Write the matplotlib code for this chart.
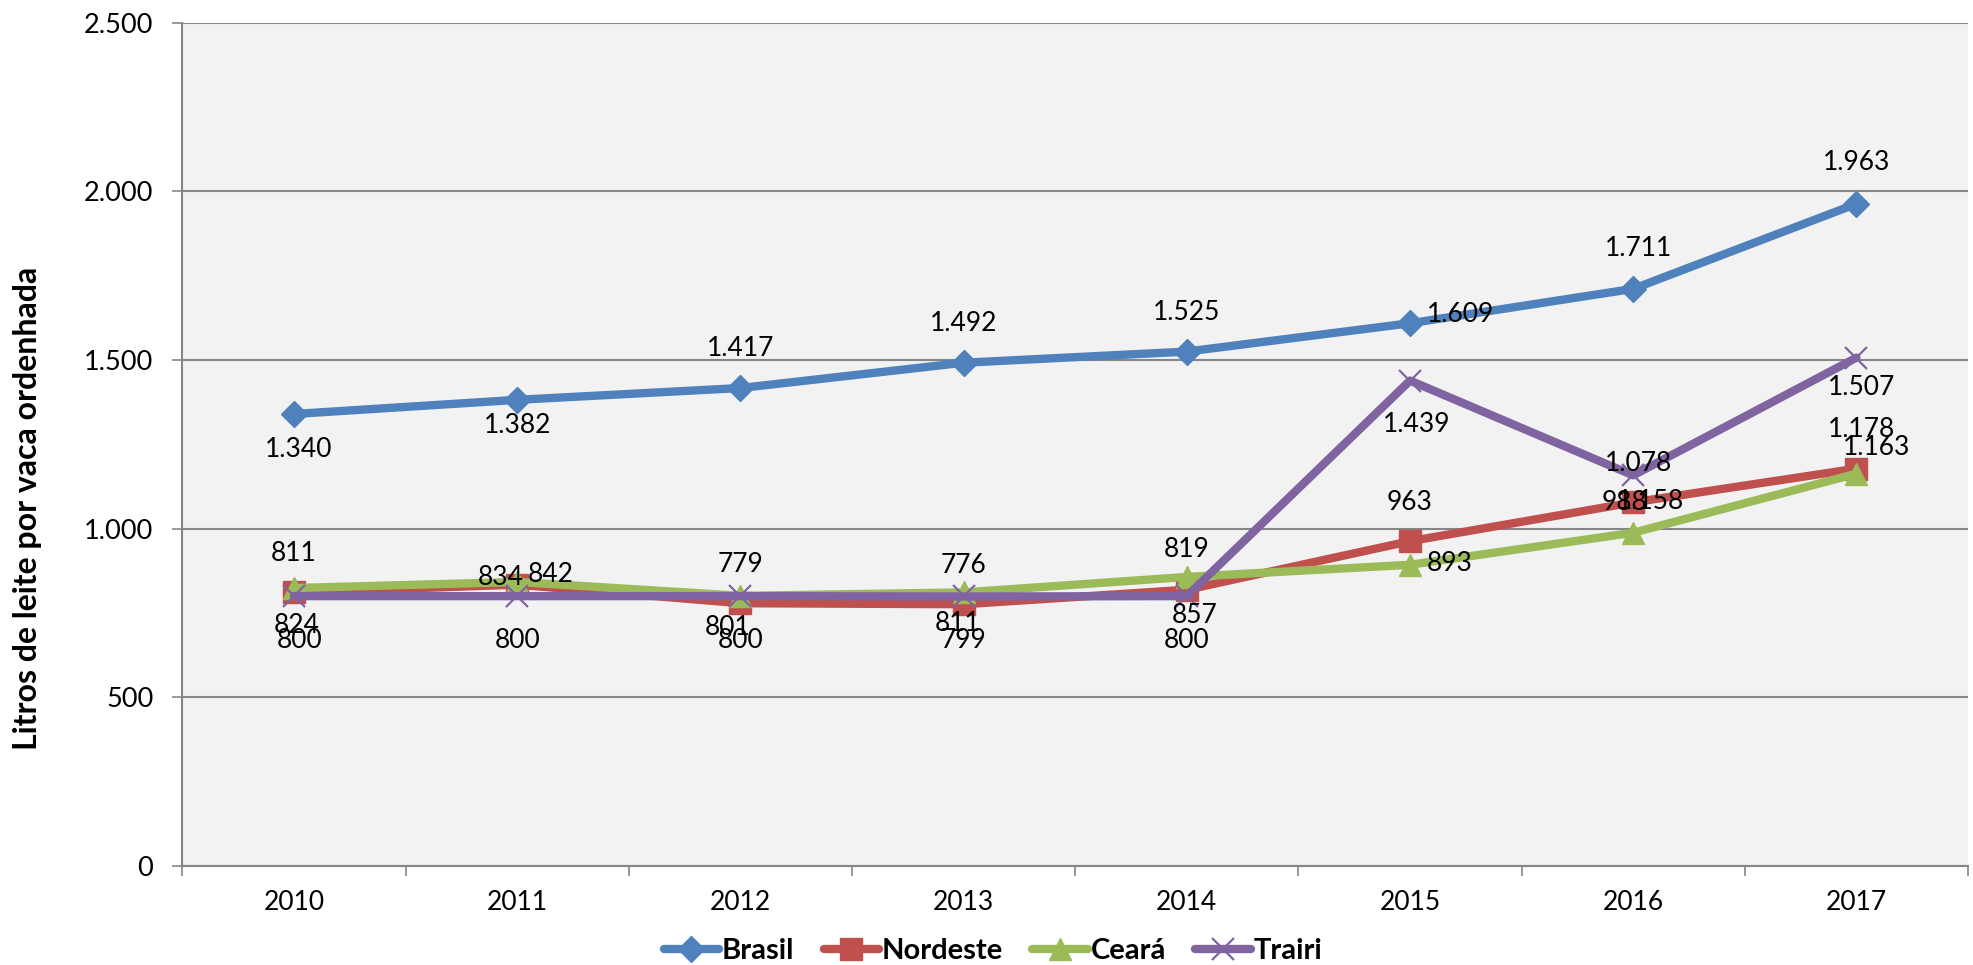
import matplotlib
matplotlib.use("Agg")
import matplotlib.pyplot as plt
from matplotlib.ticker import FixedLocator, FuncFormatter

years = ["2010", "2011", "2012", "2013", "2014", "2015", "2016", "2017"]
brasil = [1340, 1382, 1417, 1492, 1525, 1609, 1711, 1963]
nordeste = [811, 834, 779, 776, 819, 963, 1078, 1178]
ceara = [824, 842, 801, 811, 857, 893, 988, 1163]
trairi = [800, 800, 800, 799, 800, 1439, 1158, 1507]

# label offsets (dx, dy in reference px, horizontal alignment)
brasil_off = [(4, -28, "center"), (0, -20, "center"), (0, 31, "center"), (0, 31, "center"),
              (0, 31, "center"), (13, 7, "left"), (4, 32, "center"), (0, 33, "center")]
nordeste_off = [(0, 31, "center"), (-13, 6, "center"), (0, 31, "center"), (0, 31, "center"),
                (0, 32, "center"), (0, 31, "center"), (4, 31, "center"), (4, 31, "center")]
ceara_off = [(2, -30, "center"), (8, 6, "left"), (-10, -25, "center"), (-5, -25, "center"),
             (6, -31, "center"), (13, 1, "left"), (-7, 24, "center"), (16, 21, "center")]
trairi_off = [(4, -35, "center"), (0, -35, "center"), (0, -35, "center"), (0, -35, "center"),
              (0, -35, "center"), (5, -35, "center"), (14, -21, "center"), (4, -24, "center")]

K = 1.259 * 0.72
LBL_FONT = ["Lato", "DejaVu Sans"]


def fmt(v):
    return f"{int(v):,}".replace(",", ".")


fig = plt.figure(figsize=(19.74, 9.65), dpi=100)
ax = fig.add_axes([182.5 / 1974, 1 - 866 / 965, (1968 - 182.5) / 1974, (866 - 22.7) / 965])
ax.set_facecolor("#F2F2F2")

xs = list(range(len(years)))
series = [
    ("Brasil", brasil, "#4F81BD", "D", 13, 1, brasil_off),
    ("Nordeste", nordeste, "#C0504D", "s", 16, 1, nordeste_off),
    ("Ceará", ceara, "#9BBB59", "^", 16, 1, ceara_off),
    ("Trairi", trairi, "#8064A2", "x", 16, 1.6, trairi_off),
]

for name, vals, col, mk, ms, mew, _ in series:
    ax.plot(xs, vals, color=col, linewidth=6, marker=mk, markersize=ms,
            markerfacecolor=col, markeredgecolor=col, markeredgewidth=mew,
            label=name, solid_capstyle="round", zorder=3)

for name, vals, col, mk, ms, mew, offs in series:
    for i, v in enumerate(vals):
        dx, dy, ha = offs[i]
        ax.annotate(fmt(v), (i, v), xytext=(dx * K, dy * K), textcoords="offset points",
                    ha=ha, va="center", fontsize=19, family=LBL_FONT, color="black", zorder=5)

ax.set_xlim(-0.5, 7.5)
ax.set_ylim(0, 2500)
ax.set_yticks([0, 500, 1000, 1500, 2000, 2500])
ax.yaxis.set_major_formatter(FuncFormatter(lambda v, p: fmt(v)))
ax.tick_params(axis="y", direction="out", length=7, width=1.2, color="#868686",
               labelsize=19.5, pad=14, labelfontfamily="Lato")

ax.xaxis.set_major_locator(FixedLocator([i - 0.5 for i in range(len(years) + 1)]))
ax.xaxis.set_major_formatter(FuncFormatter(lambda v, p: ""))
ax.xaxis.set_minor_locator(FixedLocator(xs))
ax.xaxis.set_minor_formatter(FuncFormatter(lambda v, p: years[int(round(v))]))
ax.tick_params(axis="x", which="major", direction="out", length=7, width=1.2, color="#868686")
ax.tick_params(axis="x", which="minor", length=0, labelsize=19, pad=17,
               labelfontfamily="Lato")

ax.grid(axis="y", color="#868686", linewidth=1.5, zorder=0)
ax.set_axisbelow(True)
for s in ["top", "right"]:
    ax.spines[s].set_visible(False)
for s in ["left", "bottom"]:
    ax.spines[s].set_color("#868686")
    ax.spines[s].set_linewidth(1.5)

fig.text(28 / 1974, 1 - 508 / 965, "Litros de leite por vaca ordenhada", rotation=90,
         ha="center", va="center", fontsize=23, fontweight="bold", family=LBL_FONT)

leg = fig.legend(loc="center", bbox_to_anchor=(0.503, 1 - 951 / 965), ncol=4, frameon=False,
                 prop={"family": LBL_FONT, "weight": "bold", "size": 21},
                 handlelength=1.9, handletextpad=0.1, columnspacing=1.0)

fig.savefig("out.png", dpi=100)
